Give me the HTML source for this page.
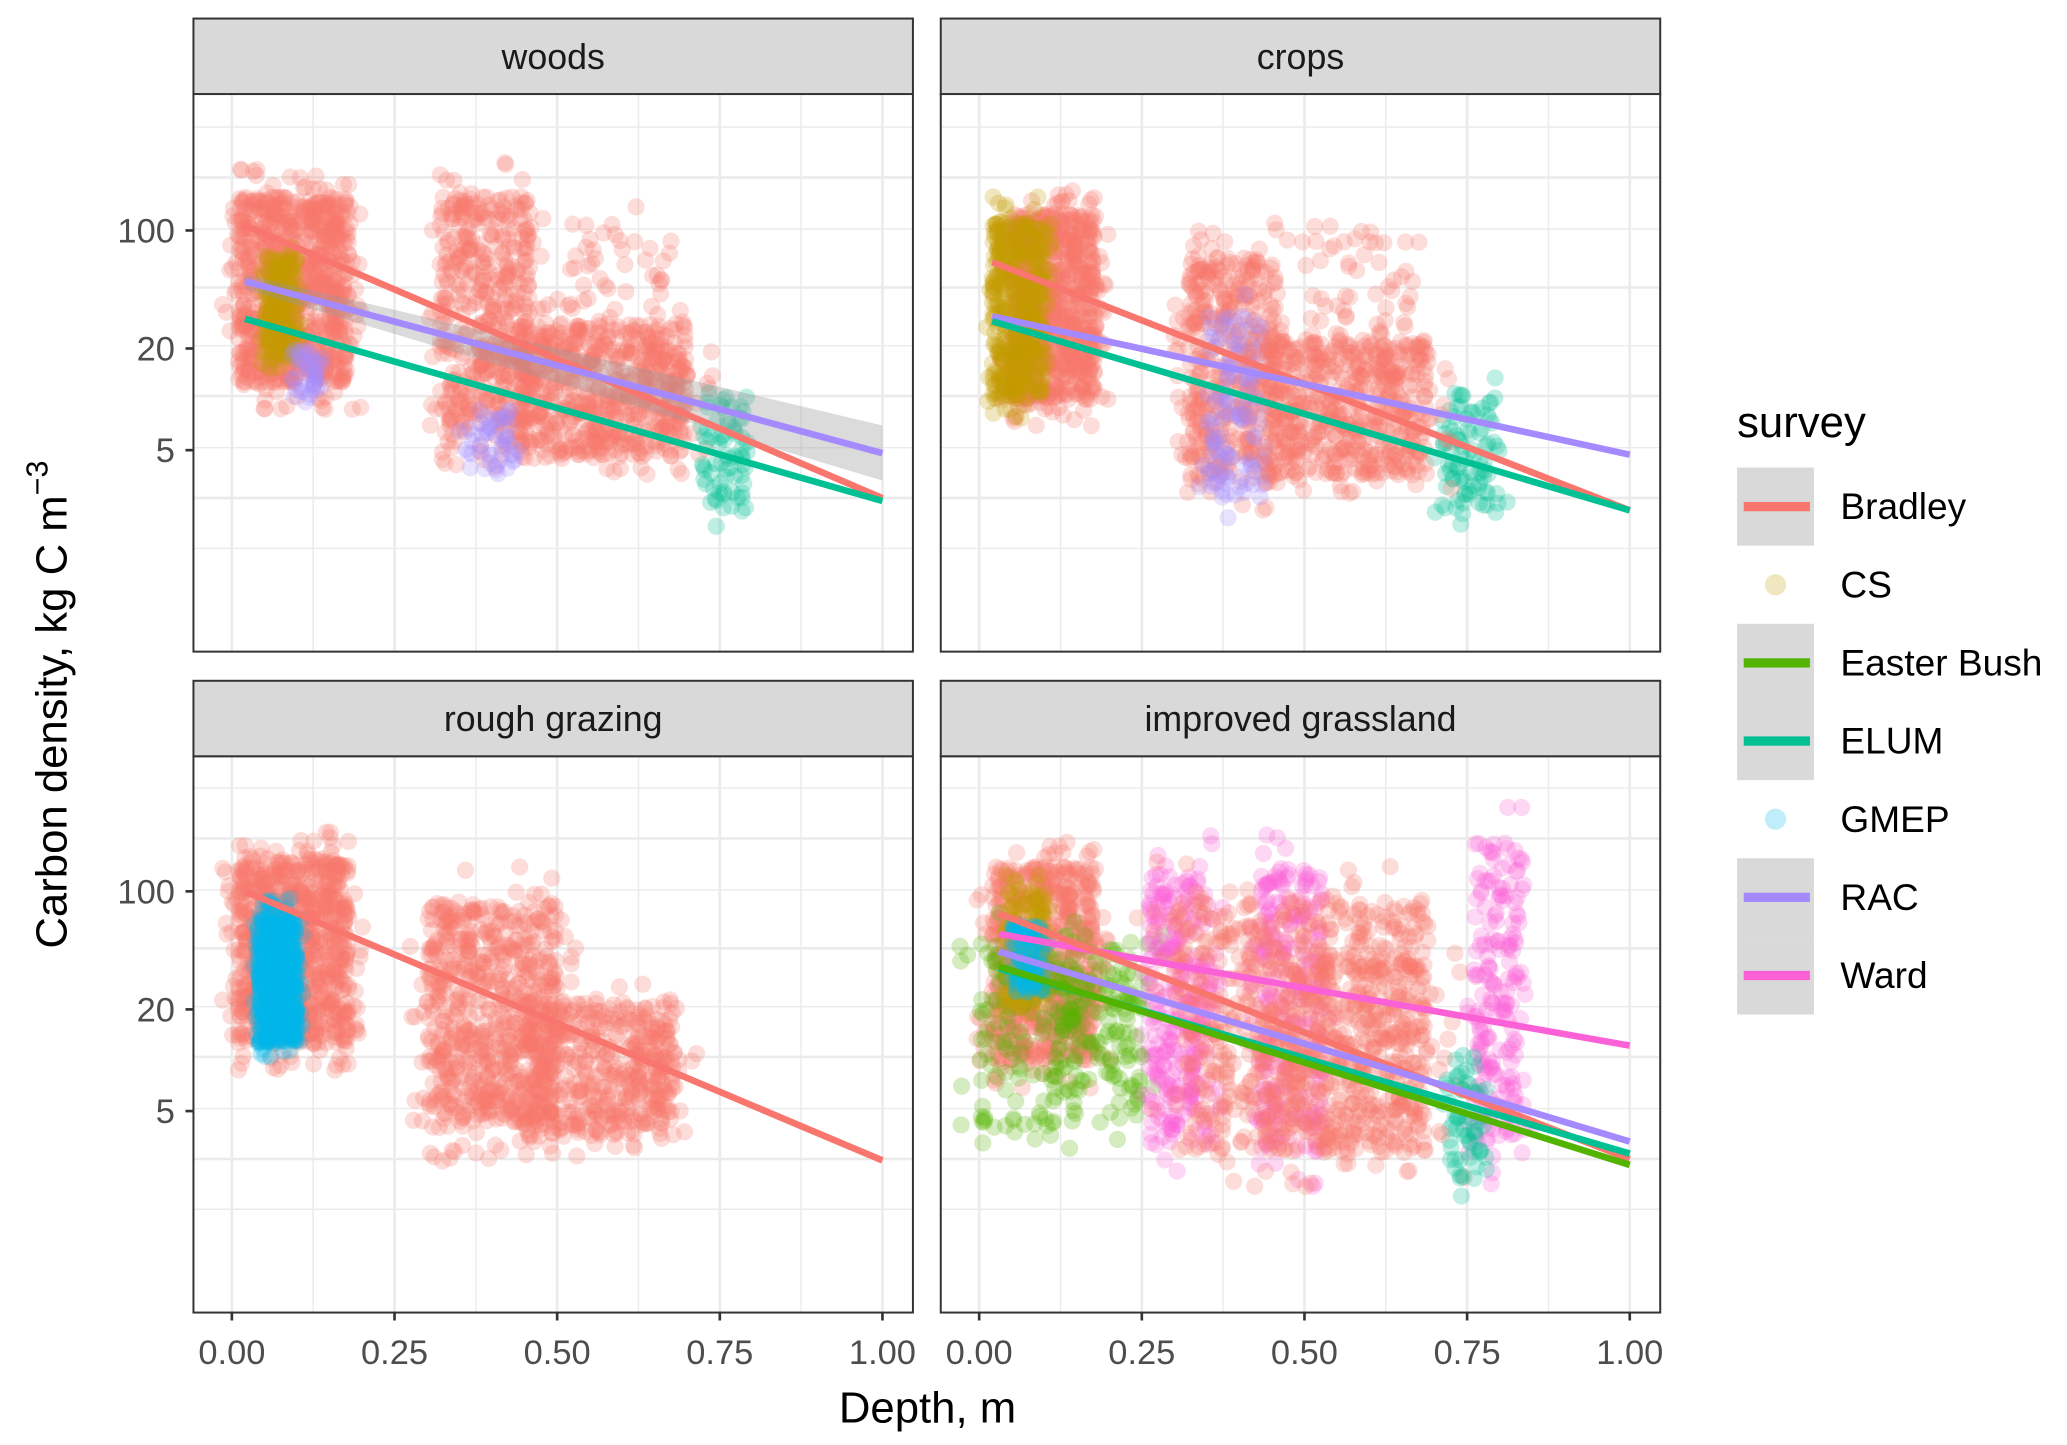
<!DOCTYPE html>
<html><head><meta charset="utf-8"><style>
html,body{margin:0;padding:0;background:#fff;}
svg{display:block;font-family:"Liberation Sans",sans-serif;}
</style></head><body>
<svg id="chart" width="2067" height="1445" viewBox="0 0 1560 1091" preserveAspectRatio="none" xmlns="http://www.w3.org/2000/svg"></svg>
<script>
// ---- data ----
const facets = ["woods","crops","rough grazing","improved grassland"];
const surveys = ["Bradley","CS","Easter Bush","ELUM","GMEP","RAC","Ward"];
const surveyColors = ["#F8766D","#C49A00","#53B400","#00C094","#00B6EB","#A58AFF","#FB61D7"];
const xTicks = [0,0.25,0.5,0.75,1];
const xTickLabels = ["0.00","0.25","0.50","0.75","1.00"];
const yTicks = [100,20,5];
const yTickLabels = ["100","20","5"];
// regression lines
const lineFacet = [0,0,0, 1,1,1, 2, 3,3,3,3,3];
const lineSurvey = [0,5,3, 0,5,3, 0, 6,0,5,3,2];
const lineD0 = [0.02,0.02,0.02, 0.02,0.02,0.02, 0.02, 0.03,0.03,0.03,0.03,0.03];
const lineV0 = [107,50,30, 65,31,29, 100, 56,74,44,35,36];
const lineD1 = [1,1,1, 1,1,1, 1, 1,1,1,1,1];
const lineV1 = [2.6,4.8,2.5, 2.2,4.7,2.2, 2.55, 12.2,2.6,3.3,2.8,2.4];
// point clusters: facet, survey, depth min, depth max, log10 min, log10 max, count
const clFacet = [0,0,0,0,0,0,0,0, 1,1,1,1,1,1,1, 2,2,2,2, 3,3,3,3,3,3,3,3,3,3,3];
const clSurvey = [0,1,0,0,0,3,5,5, 0,1,0,5,3,0,0, 0,4,0,0, 0,2,1,4,6,6,6,0,3,0,2];
const clD0 = [0.01,0.05,0.32,0.44,0.52,0.72,0.36,0.09, 0.05,0.02,0.32,0.35,0.71,0.44,0.50, 0.01,0.04,0.30,0.45, 0.02,0.0,0.04,0.05,0.26,0.43,0.76,0.30,0.72,0.44,0.12];
const clD1 = [0.18,0.10,0.46,0.70,0.68,0.79,0.44,0.14, 0.18,0.10,0.46,0.44,0.80,0.69,0.68, 0.18,0.10,0.50,0.68, 0.18,0.25,0.10,0.10,0.36,0.53,0.84,0.69,0.78,0.69,0.25];
const clL0 = [1.1,1.25,0.8,0.65,1.2,0.35,0.55,1.0, 1.0,1.0,0.5,0.4,0.35,0.55,1.2, 1.1,1.1,0.6,0.55, 1.0,0.6,1.3,1.4,0.5,0.45,0.5,0.45,0.3,0.5,0.8];
const clL1 = [2.2,1.85,2.2,1.45,2.05,1.05,0.95,1.3, 2.1,2.05,1.85,1.5,1.05,1.35,2.0, 2.2,1.85,1.95,1.35, 2.15,1.75,2.0,1.8,2.1,2.15,2.3,1.95,1.05,1.6,1.55];
const clN = [900,200,500,650,60,70,50,40, 800,450,450,120,90,550,60, 900,600,700,500, 700,220,150,100,300,260,200,700,60,300,80];

// ---- layout ----
const svg = document.getElementById('chart');
const NS = 'http://www.w3.org/2000/svg';
const panels = [{x0:146,x1:689,sy:14,y0:71,y1:492},{x0:710,x1:1253,sy:14,y0:71,y1:492},
                {x0:146,x1:689,sy:514,y0:571,y1:991},{x0:710,x1:1253,sy:514,y0:571,y1:991}];
function xScale(p,d){return panels[p].x0+29+491*d;}
function yScale(p,v){return (p<2?174:673)-127.5*(Math.log10(v)-2);}
function yScaleLog(p,l){return (p<2?174:673)-127.5*(l-2);}
function el(tag,attrs,parent){const e=document.createElementNS(NS,tag);for(const k in attrs)e.setAttribute(k,attrs[k]);(parent||svg).appendChild(e);return e;}
const defs=el('defs',{});
panels.forEach((P,i)=>{const c=el('clipPath',{id:'clip'+i},defs);el('rect',{x:P.x0,y:P.y0,width:P.x1-P.x0,height:P.y1-P.y0},c);});

const gridRel=[96,134,173,217,261,299,338,376,414];
let seed=12345;
function rnd(){seed=(seed*1103515245+12345)%2147483648;return seed/2147483648;}
function spread(){return rnd()<0.85 ? rnd() : (rnd()*1.3-0.15);}

panels.forEach((P,i)=>{
  const g=el('g',{});
  
  
  el('rect',{x:P.x0,y:P.y0,width:P.x1-P.x0,height:P.y1-P.y0,fill:'#fff'},g);
  const off=i<2?0:499;
  gridRel.forEach((gy,k)=>{el('line',{x1:P.x0,x2:P.x1,y1:gy+off,y2:gy+off,stroke:'#ebebeb','stroke-width':(k%2==0)?1.1:2},g);});
  for(let d=0;d<=1.0001;d+=0.125){const x=xScale(i,d);el('line',{x1:x,x2:x,y1:P.y0,y2:P.y1,stroke:'#ebebeb','stroke-width':(Math.round(d*8)%2==0)?2:1.1},g);}
  const pg=el('g',{'clip-path':'url(#clip'+i+')'},g);
  
  
  clFacet.forEach((f,c)=>{
    if(f!==i)return;
    const col=surveyColors[clSurvey[c]];
    for(let n=0;n<clN[c];n++){
      const d=clD0[c]+(clD1[c]-clD0[c])*spread();
      const l=clL0[c]+(clL1[c]-clL0[c])*spread();
      el('circle',{cx:xScale(i,d),cy:yScaleLog(i,l),r:6.5,fill:col,'fill-opacity':0.25},pg);
    }
  });
  if(i===0){const r=el('polygon',{points:`${xScale(0,0.02)},${yScale(0,55)} ${xScale(0,1)},${yScale(0,7)} ${xScale(0,1)},${yScale(0,3.3)} ${xScale(0,0.02)},${yScale(0,45)}`,fill:'#999','fill-opacity':0.35},pg);
    }
  lineFacet.forEach((f,k)=>{
    if(f!==i)return;
    const ln=el('line',{x1:xScale(i,lineD0[k]),y1:yScale(i,lineV0[k]),x2:xScale(i,lineD1[k]),y2:yScale(i,lineV1[k]),stroke:surveyColors[lineSurvey[k]],'stroke-width':5},pg);
    
    
  });
  el('rect',{x:P.x0,y:P.y0,width:P.x1-P.x0,height:P.y1-P.y0,fill:'none',stroke:'#333','stroke-width':1.5},g);
  const s=el('rect',{x:P.x0,y:P.sy,width:P.x1-P.x0,height:P.y0-P.sy,fill:'#d9d9d9',stroke:'#333','stroke-width':1.5},g);
  
  
  const st=el('text',{x:(P.x0+P.x1)/2,y:P.sy+38,'text-anchor':'middle','font-size':27,fill:'#1a1a1a'},g);
  st.textContent=facets[i];
  if(i%2===0){yTicks.forEach((v,k)=>{const y=yScale(i,v);
    el('line',{x1:P.x0-6,x2:P.x0,y1:y,y2:y,stroke:'#333','stroke-width':2},g);
    const t=el('text',{x:P.x0-14,y:y+9,'text-anchor':'end','font-size':26,fill:'#4d4d4d'},g);t.textContent=yTickLabels[k];
    });}
  if(i>=2){xTicks.forEach((d,k)=>{const x=xScale(i,d);
    el('line',{x1:x,x2:x,y1:P.y1,y2:P.y1+6,stroke:'#333','stroke-width':2},g);
    const t=el('text',{x:x,y:P.y1+39,'text-anchor':'middle','font-size':26,fill:'#4d4d4d'},g);t.textContent=xTickLabels[k];
    });}
});
const xt=el('text',{x:700,y:1074,'text-anchor':'middle','font-size':33,fill:'#000'});xt.textContent='Depth, m';

const yt=el('text',{x:0,y:0,'text-anchor':'middle','font-size':33,fill:'#000',transform:'translate(50,532) rotate(-90)'});
yt.innerHTML='Carbon density, kg C m<tspan dy="-14" font-size="23">−3</tspan>';

const lg=el('g',{});
const lt=el('text',{x:1311,y:330,'font-size':33,fill:'#000'},lg);lt.textContent='survey';
surveys.forEach((s,k)=>{
  const y=353+k*59;const hasLine=!(k===1||k===4);
  const e=el('g',{},lg);
  if(hasLine){el('rect',{x:1311,y:y,width:58,height:59,fill:'#d9d9d9'},e);
    el('rect',{x:1316,y:y+26,width:50,height:7,fill:surveyColors[k]},e);}
  else el('circle',{cx:1340,cy:y+29.5,r:8,fill:surveyColors[k],'fill-opacity':0.25},e);
  const t=el('text',{x:1389,y:y+39,'font-size':28,fill:'#000'},e);t.textContent=s;
});
</script>
</body></html>
